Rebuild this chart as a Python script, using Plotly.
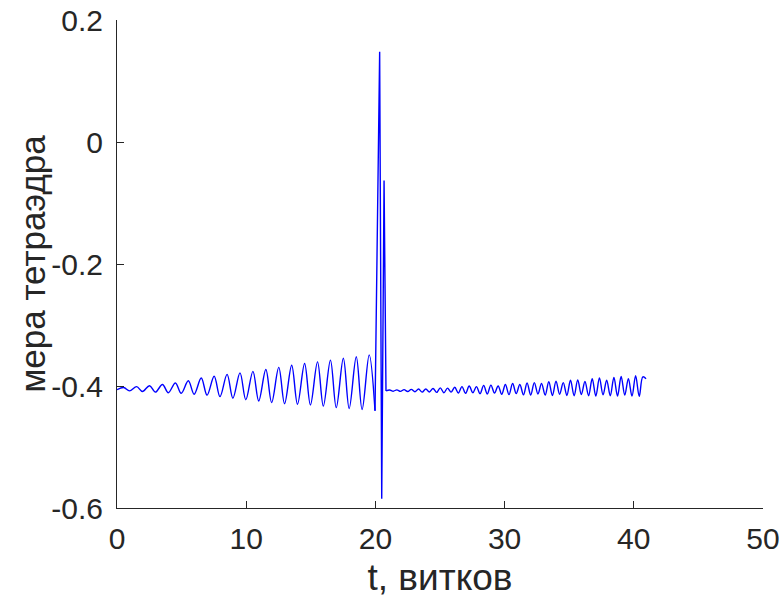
import plotly.graph_objects as go

# Segment 1: growing oscillation before the event (extrema)
t_osc1 = [0.00, 0.52, 0.97, 1.52, 1.97, 2.52, 2.97, 3.52, 3.97, 4.52, 4.97,
          5.52, 5.97, 6.52, 6.97, 7.52, 7.97, 8.52, 8.97, 9.52, 9.97,
          10.52, 10.97, 11.52, 11.97, 12.52, 12.97, 13.52, 13.97, 14.52, 14.97,
          15.52, 15.97, 16.52, 16.97, 17.52, 17.97, 18.52, 18.97, 19.52, 19.97]
y_osc1 = [-0.4060, -0.4025, -0.4080, -0.4010, -0.4090, -0.3995, -0.4100, -0.3975, -0.4110, -0.3950, -0.4120,
          -0.3915, -0.4135, -0.3870, -0.4150, -0.3840, -0.4175, -0.3810, -0.4200, -0.3785, -0.4225,
          -0.3760, -0.4245, -0.3730, -0.4270, -0.3695, -0.4290, -0.3660, -0.4300, -0.3630, -0.4310,
          -0.3605, -0.4330, -0.3575, -0.4355, -0.3545, -0.4370, -0.3520, -0.4385, -0.3490, -0.4405]

# Spike around t = 20.3
t_spike = [19.97, 20.33, 20.49, 20.67, 20.82]
y_spike = [-0.4405, 0.148, -0.585, -0.063, -0.408]

# Segment 2: small oscillation after the event
t_osc2 = [20.82, 21.10, 21.38, 21.66, 21.94, 22.22, 22.50, 22.78, 23.06, 23.34, 23.62,
          23.90, 24.18, 24.46, 24.74, 25.02, 25.30, 25.58, 25.86, 26.14, 26.42,
          26.70, 26.98, 27.26, 27.54, 27.82, 28.10, 28.38, 28.66, 28.94, 29.22,
          29.50, 29.78, 30.06, 30.34, 30.62, 30.90, 31.18, 31.46, 31.74, 32.02,
          32.30, 32.58, 32.86, 33.14, 33.42, 33.70, 33.98, 34.26, 34.54, 34.82,
          35.10, 35.38, 35.66, 35.94, 36.22, 36.50, 36.78, 37.06, 37.34, 37.62,
          37.90, 38.18, 38.46, 38.74, 39.02, 39.30, 39.58, 39.86, 40.14, 40.42, 40.70, 40.95]
y_osc2 = [-0.4080, -0.4065, -0.4085, -0.4063, -0.4088, -0.4060, -0.4090, -0.4055, -0.4095, -0.4050, -0.4100,
          -0.4048, -0.4098, -0.4040, -0.4105, -0.4030, -0.4110, -0.4035, -0.4100, -0.4020, -0.4115,
          -0.4010, -0.4120, -0.4000, -0.4110, -0.4010, -0.4125, -0.3990, -0.4130, -0.3985, -0.4115,
          -0.4000, -0.4135, -0.3975, -0.4140, -0.3960, -0.4125, -0.3975, -0.4145, -0.3950, -0.4148,
          -0.3945, -0.4130, -0.3960, -0.4150, -0.3930, -0.4155, -0.3920, -0.4135, -0.3945, -0.4155,
          -0.3905, -0.4160, -0.3900, -0.4140, -0.3925, -0.4160, -0.3880, -0.4165, -0.3870, -0.4145,
          -0.3905, -0.4160, -0.3860, -0.4165, -0.3845, -0.4150, -0.3880, -0.4165, -0.3830, -0.4170, -0.3850, -0.3880]

x_ticks = [0, 10, 20, 30, 40, 50]
y_ticks = [-0.6, -0.4, -0.2, 0, 0.2]
y_tick_text = ["-0.6", "-0.4", "-0.2", "0", "0.2"]
x_title = "t, витков"
y_title = "мера тетраэдра"

line_style = dict(color="#0000ff", width=1.4)

fig = go.Figure()
fig.add_trace(go.Scatter(x=t_osc1, y=y_osc1, mode="lines", line=dict(shape="spline", **line_style)))
fig.add_trace(go.Scatter(x=t_spike, y=y_spike, mode="lines", line=dict(shape="linear", **line_style)))
fig.add_trace(go.Scatter(x=t_osc2, y=y_osc2, mode="lines", line=dict(shape="spline", **line_style)))

axis_color = "#262626"
fig.update_layout(
    width=781, height=601,
    margin=dict(l=117, r=18, t=20, b=93),
    paper_bgcolor="white", plot_bgcolor="white",
    showlegend=False,
    font=dict(family="Liberation Sans, Arial, sans-serif", color=axis_color),
    xaxis=dict(
        range=[0, 50], tickvals=x_ticks, ticks="inside", ticklen=7, tickcolor=axis_color,
        showline=True, linecolor=axis_color, linewidth=1, showgrid=False, zeroline=False,
        automargin=False, ticklabelstandoff=4, ticklabeloverflow="allow",
        tickfont=dict(size=30, color=axis_color),
        title=dict(text=x_title, font=dict(size=37, color=axis_color), standoff=10),
    ),
    yaxis=dict(
        range=[-0.6, 0.2], tickvals=y_ticks, ticktext=y_tick_text, ticks="inside", ticklen=7,
        tickcolor=axis_color, showline=True, linecolor=axis_color, linewidth=1,
        showgrid=False, zeroline=False, automargin=False, ticklabelstandoff=7,
        ticklabeloverflow="allow",
        tickfont=dict(size=30, color=axis_color),
    ),
    annotations=[dict(
        text=y_title, textangle=-90, xref="paper", yref="paper",
        x=-0.132, y=0.5, xanchor="center", yanchor="middle", showarrow=False,
        font=dict(size=35, color=axis_color),
    )],
)

fig.write_html("out.html", post_script="document.body.style.margin='0';",
               config={"displayModeBar": False})
